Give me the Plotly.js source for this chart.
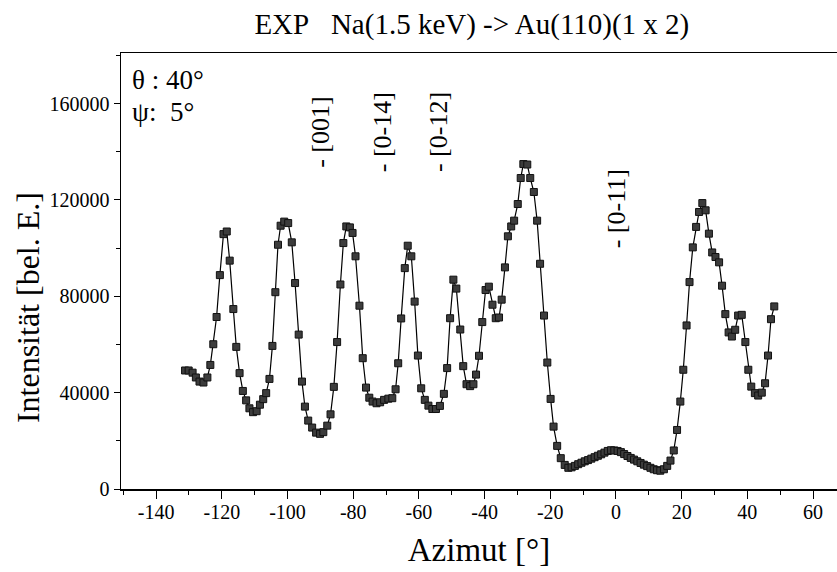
<!DOCTYPE html>
<html>
<head>
<meta charset="utf-8">
<script src="https://cdn.plot.ly/plotly-3.0.1.min.js"></script>
<style>
  html, body { margin: 0; padding: 0; background: #ffffff; }
  #chart { width: 837px; height: 572px; }
</style>
</head>
<body>
<div id="chart"></div>
<script>
// Azimuth angle (deg) of each measured point
const azimut = [
  -131.2, -130.1, -128.9, -127.9, -126.8, -125.6, -124.4, -123.5, -122.6, -121.6,
  -120.6, -119.5, -118.5, -117.6, -116.5, -115.6, -114.6, -113.6, -112.6, -111.6,
  -110.5, -109.4, -108.4, -107.4, -106.5, -105.5, -104.6, -103.7, -102.9, -102.1,
  -101.0, -99.8, -98.7, -97.7, -96.6, -95.6, -94.7, -93.7, -92.5, -91.3,
  -90.1, -89.1, -87.9, -86.9, -85.9, -84.9, -83.9, -83.0, -82.1, -81.0,
  -80.2, -79.3, -78.1, -77.1, -76.1, -75.1, -74.1, -72.9, -71.8, -70.6,
  -69.3, -68.1, -67.1, -66.3, -65.4, -64.3, -63.4, -62.3, -61.3, -60.3,
  -59.3, -58.2, -57.1, -55.9, -54.8, -53.6, -52.4, -51.4, -50.5, -49.5,
  -48.6, -47.4, -46.5, -45.5, -44.4, -43.4, -42.6, -41.7, -40.7, -39.7,
  -38.7, -37.6, -36.6, -35.6, -34.8, -33.8, -32.9, -31.9, -31.0, -29.9,
  -29.0, -28.2, -27.0, -26.1, -25.0, -24.0, -23.1, -21.9, -20.9, -19.9,
  -19.0, -17.9, -16.8, -15.6, -14.5, -13.5, -12.5, -11.5, -10.5, -9.5,
  -8.5, -7.5, -6.5, -5.5, -4.5, -3.5, -2.5, -1.5, -0.5, 0.5,
  1.5, 2.5, 3.5, 4.5, 5.5, 6.5, 7.5, 8.5, 9.5, 10.5,
  11.5, 12.5, 13.5, 14.6, 15.6, 16.6, 17.6, 18.6, 19.6, 20.5,
  21.5, 22.4, 23.4, 24.4, 25.3, 26.3, 27.3, 28.3, 29.3, 30.3,
  31.4, 32.3, 33.3, 34.3, 35.3, 36.3, 37.2, 38.3, 39.4, 40.3,
  41.2, 42.3, 43.3, 44.4, 45.4, 46.3, 47.2, 48.2
];
// Measured intensity (arbitrary units)
const intensitaet = [
  49200, 49200, 48300, 46300, 44600, 44200, 46300, 51500, 60100, 71400,
  88800, 105800, 106900, 94800, 74700, 59000, 48100, 40700, 36800, 33500,
  31900, 32300, 35000, 37300, 39800, 45700, 59400, 81700, 101400, 109300,
  111000, 110400, 102400, 85500, 64100, 44600, 34200, 28400, 25500, 23400,
  22900, 23600, 26300, 31000, 42400, 61000, 84900, 102100, 109000, 108600,
  106300, 96600, 76100, 54300, 42100, 37900, 36300, 35600, 36000, 37000,
  37500, 37700, 41400, 52200, 70800, 91700, 101000, 96600, 77800, 55400,
  41800, 37000, 34600, 33200, 33200, 34500, 39500, 50200, 70900, 86900,
  83200, 66200, 51000, 43500, 42700, 43500, 47500, 55300, 69300, 82600,
  84000, 76500, 70900, 71200, 78600, 92000, 104900, 109000, 111400, 118300,
  129100, 134900, 134700, 129100, 123300, 111400, 93500, 72000, 52500, 37400,
  25900, 17900, 12800, 10000, 8800, 9000, 9600, 10300, 10900, 11500,
  12000, 12600, 13200, 13800, 14400, 15100, 15800, 16100, 16000, 15800,
  15300, 14500, 13700, 12900, 12200, 11500, 10800, 10100, 9500, 8800,
  8200, 7800, 7600, 8200, 9600, 11800, 16000, 24500, 36300, 49500,
  67900, 85900, 100300, 108800, 115000, 118700, 115700, 106000, 98200, 96300,
  94100, 84400, 72600, 65000, 63300, 66100, 72000, 72300, 61000, 49500,
  42500, 39800, 38800, 40000, 43900, 55400, 70500, 75800
];

// Axis ticks
const xTickVals = [-140, -120, -100, -80, -60, -40, -20, 0, 20, 40, 60];
const xTickText = ["-140", "-120", "-100", "-80", "-60", "-40", "-20", "0", "20", "40", "60"];
const yTickVals = [0, 40000, 80000, 120000, 160000];
const yTickText = ["0", "40000", "80000", "120000", "160000"];

// Crystal direction labels and their azimuths
const dirLabels = ["- [001]", "- [0-14]", "- [0-12]", "- [0-11]"];
const dirAzimut = [-90, -71, -54, 0];
const dirLevel = [148000, 148000, 148000, 116500];

// Texts
const titleText = "EXP\u00a0\u00a0\u00a0Na(1.5 keV) -> Au(110)(1 x 2)";
const xTitle = "Azimut [°]";
const yTitle = "Intensität [bel. E.]";
const paramLines = ["θ : 40°", "ψ:  5°"];

const FONT = "'Liberation Serif', 'DejaVu Serif', serif";

const trace = {
  x: azimut,
  y: intensitaet,
  type: "scatter",
  mode: "lines+markers",
  line: { color: "#000000", width: 1.2 },
  marker: { symbol: "square", size: 7, color: "#3c3c3c", line: { color: "#111111", width: 1 } },
  hoverinfo: "x+y",
  showlegend: false
};

const annotations = dirLabels.map((t, i) => ({
  text: t,
  x: dirAzimut[i],
  y: dirLevel[i],
  xref: "x",
  yref: "y",
  showarrow: false,
  textangle: -90,
  xanchor: "center",
  yanchor: "middle",
  font: { family: FONT, size: 26, color: "#000" }
}));

annotations.push({
  text: paramLines[0],
  xref: "paper", yref: "paper",
  x: 0.012, y: 0.937,
  xanchor: "left", yanchor: "middle",
  showarrow: false,
  font: { family: FONT, size: 27, color: "#000" }
});
annotations.push({
  text: paramLines[1],
  xref: "paper", yref: "paper",
  x: 0.012, y: 0.864,
  xanchor: "left", yanchor: "middle",
  showarrow: false,
  font: { family: FONT, size: 27, color: "#000" }
});
// y-axis title (placed as annotation to match its off-centre position)
annotations.push({
  text: yTitle,
  xref: "paper", yref: "paper",
  x: -0.130, y: 0.417,
  xanchor: "center", yanchor: "middle",
  textangle: -90,
  showarrow: false,
  font: { family: FONT, size: 32, color: "#000" }
});

const layout = {
  width: 837,
  height: 572,
  margin: { l: 121, r: 0, t: 53, b: 83, pad: 0 },
  paper_bgcolor: "#ffffff",
  plot_bgcolor: "#ffffff",
  font: { family: FONT, color: "#000" },
  title: {
    text: titleText,
    font: { family: FONT, size: 29, color: "#000" },
    xref: "paper", x: 0.49, xanchor: "center",
    yref: "container", y: 0.958, yanchor: "middle"
  },
  xaxis: {
    range: [-150.7, 67.3],
    tickvals: xTickVals,
    ticktext: xTickText,
    ticks: "outside",
    ticklen: 8,
    tickwidth: 1,
    tickcolor: "#000",
    ticklabelstandoff: -4,
    minor: { dtick: 10, tick0: 0, ticks: "outside", ticklen: 4, tickwidth: 1, tickcolor: "#000", showgrid: false },
    showline: true,
    linecolor: "#000",
    linewidth: 1.5,
    mirror: true,
    showgrid: false,
    zeroline: false,
    tickfont: { family: FONT, size: 20, color: "#000" },
    title: { text: xTitle, font: { family: FONT, size: 33, color: "#000" }, standoff: 16 }
  },
  yaxis: {
    range: [0, 181000],
    tickvals: yTickVals,
    ticktext: yTickText,
    ticks: "outside",
    ticklen: 6,
    tickwidth: 1,
    tickcolor: "#000",
    minor: { dtick: 20000, tick0: 0, ticks: "outside", ticklen: 4, tickwidth: 1, tickcolor: "#000", showgrid: false },
    showline: true,
    linecolor: "#000",
    linewidth: 1.5,
    showgrid: false,
    zeroline: false,
    tickfont: { family: FONT, size: 20, color: "#000" }
  },
  annotations: annotations
};

Plotly.newPlot("chart", [trace], layout, { displayModeBar: false, staticPlot: true });
</script>
</body>
</html>
